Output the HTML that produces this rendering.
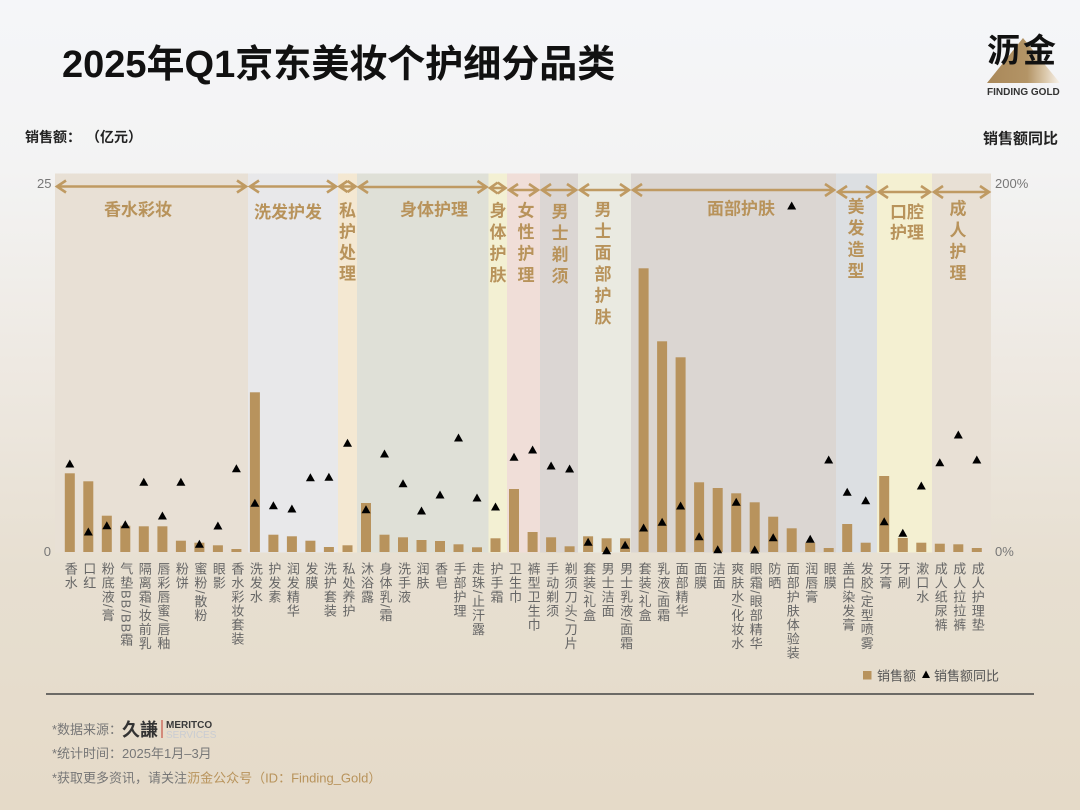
<!DOCTYPE html>
<html><head><meta charset="utf-8">
<style>
html,body{margin:0;padding:0;}
body{width:1080px;height:810px;overflow:hidden;position:relative;
background:linear-gradient(180deg,#f5f6f9 0%,#f3f3f3 21%,#eee9e2 45%,#e7dfd1 70%,#e5dac8 100%);
font-family:"Liberation Sans","Noto Sans CJK SC",sans-serif;}
svg{position:absolute;left:0;top:0;}
.xl{position:absolute;top:562px;width:14px;writing-mode:vertical-rl;text-orientation:mixed;
font-size:13px;line-height:14px;letter-spacing:1px;color:#666;white-space:nowrap;
font-family:"Liberation Sans","Noto Sans CJK SC",sans-serif;}
</style></head>
<body>
<svg width="1080" height="810" viewBox="0 0 1080 810" xmlns="http://www.w3.org/2000/svg" font-family="Liberation Sans, Noto Sans CJK SC, sans-serif">
<defs>
<linearGradient id="lg" x1="0" y1="0" x2="1" y2="0">
<stop offset="0" stop-color="#a98859"/>
<stop offset="0.55" stop-color="#b39466"/>
<stop offset="0.78" stop-color="#d8c4a5"/>
<stop offset="1" stop-color="#f8f3ec"/>
</linearGradient>
</defs>

<!-- title -->
<text x="62" y="77" font-size="38" font-weight="bold" fill="#111">2025年Q1京东美妆个护细分品类</text>

<!-- logo -->
<polygon points="1023,38 987,83 1060,83" fill="url(#lg)"/>
<text x="987" y="62" font-size="33" font-weight="bold" fill="#111" letter-spacing="3" font-family="Noto Sans CJK SC, sans-serif">沥金</text>
<text x="987" y="95" font-size="10" font-weight="bold" fill="#333">FINDING GOLD</text>

<!-- axis titles -->
<text x="25" y="142" font-size="14" font-weight="bold" fill="#222">销售额：</text>
<text x="86" y="142" font-size="14" font-weight="bold" fill="#222">（亿元）</text>
<text x="1058" y="143.5" font-size="15" font-weight="bold" fill="#222" text-anchor="end">销售额同比</text>

<!-- bands -->
<rect x="55" y="173.5" width="193" height="379" fill="#e8e0d5"/>
<rect x="248" y="173.5" width="90" height="379" fill="#e8e8ea"/>
<rect x="338" y="173.5" width="19" height="379" fill="#f4e8d2"/>
<rect x="357" y="173.5" width="131.5" height="379" fill="#dfe0d7"/>
<rect x="488.5" y="173.5" width="18.5" height="379" fill="#f3f0d3"/>
<rect x="507" y="173.5" width="33" height="379" fill="#f0ded8"/>
<rect x="540" y="173.5" width="38" height="379" fill="#dbd6d3"/>
<rect x="578" y="173.5" width="53" height="379" fill="#eaeae1"/>
<rect x="631" y="173.5" width="205" height="379" fill="#dbd6d2"/>
<rect x="836" y="173.5" width="41" height="379" fill="#dcdfe2"/>
<rect x="877" y="173.5" width="55" height="379" fill="#f4f0d2"/>
<rect x="932" y="173.5" width="59" height="379" fill="#e8e0d5"/>

<!-- arrows -->
<g stroke="#bf9a62" stroke-width="2.6" fill="none" stroke-linejoin="miter">
<path d="M57,186.5 H246 M66,180.5 L57,186.5 L66,192.5 M237,180.5 L246,186.5 L237,192.5"/>
<path d="M250,186.5 H336 M259,180.5 L250,186.5 L259,192.5 M327,180.5 L336,186.5 L327,192.5"/>
<path d="M339.5,186.5 H355.5 M347.5,181 L339.5,186.5 L347.5,192 M347.5,181 L355.5,186.5 L347.5,192"/>
<path d="M359,187 H486.5 M368,181 L359,187 L368,193 M477.5,181 L486.5,187 L477.5,193"/>
<path d="M490,188 H505.5 M497.7,182.5 L490,188 L497.7,193.5 M497.7,182.5 L505.5,188 L497.7,193.5"/>
<path d="M509,190 H538 M518,184 L509,190 L518,196 M529,184 L538,190 L529,196"/>
<path d="M542,190 H576 M551,184 L542,190 L551,196 M567,184 L576,190 L567,196"/>
<path d="M580,190 H629 M589,184 L580,190 L589,196 M620,184 L629,190 L620,196"/>
<path d="M633,190 H834 M642,184 L633,190 L642,196 M825,184 L834,190 L825,196"/>
<path d="M838,192 H875 M847,186 L838,192 L847,198 M866,186 L875,192 L866,198"/>
<path d="M879,192 H930 M888,186 L879,192 L888,198 M921,186 L930,192 L921,198"/>
<path d="M934,192 H989 M943,186 L934,192 L943,198 M980,186 L989,192 L980,198"/>
</g>

<!-- band labels -->
<g fill="#b8935b" font-size="17" font-weight="bold" font-family="Noto Sans CJK SC, sans-serif" text-anchor="middle">
<text x="138" y="215.5">香水彩妆</text>
<text x="288" y="218">洗发护发</text>
<text x="434" y="215.5">身体护理</text>
<text x="741" y="214.5">面部护肤</text>
<text x="907" y="218">口腔</text>
<text x="907" y="238.5">护理</text>
<text x="347.5" y="216.5">私</text><text x="347.5" y="237.5">护</text><text x="347.5" y="258.5">处</text><text x="347.5" y="279.5">理</text>
<text x="498" y="216.5">身</text><text x="498" y="238">体</text><text x="498" y="259.5">护</text><text x="498" y="281">肤</text>
<text x="526" y="216.5">女</text><text x="526" y="238">性</text><text x="526" y="259.5">护</text><text x="526" y="281">理</text>
<text x="560" y="217.5">男</text><text x="560" y="239">士</text><text x="560" y="260.5">剃</text><text x="560" y="282">须</text>
<text x="603" y="215.5">男</text><text x="603" y="237">士</text><text x="603" y="258.5">面</text><text x="603" y="280">部</text><text x="603" y="301.5">护</text><text x="603" y="323">肤</text>
<text x="856" y="212.5">美</text><text x="856" y="234">发</text><text x="856" y="255.5">造</text><text x="856" y="277">型</text>
<text x="958" y="214.5">成</text><text x="958" y="236">人</text><text x="958" y="257.5">护</text><text x="958" y="279">理</text>
</g>

<!-- axis tick labels -->
<g font-size="13" fill="#777">
<text x="51.5" y="188" text-anchor="end">25</text>
<text x="51" y="556" text-anchor="end">0</text>
<text x="995" y="188">200%</text>
<text x="995" y="556">0%</text>
</g>

<!-- bars -->
<g fill="#b8935d">
<rect x="64.8" y="473.3" width="10" height="78.7"/>
<rect x="83.3" y="481.3" width="10" height="70.7"/>
<rect x="101.8" y="515.7" width="10" height="36.3"/>
<rect x="120.3" y="525.7" width="10" height="26.3"/>
<rect x="138.8" y="526.3" width="10" height="25.7"/>
<rect x="157.4" y="526.3" width="10" height="25.7"/>
<rect x="175.9" y="540.7" width="10" height="11.3"/>
<rect x="194.4" y="542.7" width="10" height="9.3"/>
<rect x="212.9" y="545.3" width="10" height="6.7"/>
<rect x="231.4" y="549" width="10" height="3"/>
<rect x="249.9" y="392.3" width="10" height="159.7"/>
<rect x="268.4" y="534.7" width="10" height="17.3"/>
<rect x="286.9" y="536.3" width="10" height="15.7"/>
<rect x="305.4" y="540.7" width="10" height="11.3"/>
<rect x="323.9" y="547" width="10" height="5"/>
<rect x="342.5" y="545.3" width="10" height="6.7"/>
<rect x="361" y="503" width="10" height="49"/>
<rect x="379.5" y="534.7" width="10" height="17.3"/>
<rect x="398" y="537.3" width="10" height="14.7"/>
<rect x="416.5" y="540" width="10" height="12"/>
<rect x="435" y="541" width="10" height="11"/>
<rect x="453.5" y="544.3" width="10" height="7.7"/>
<rect x="472" y="547.3" width="10" height="4.7"/>
<rect x="490.5" y="538.3" width="10" height="13.7"/>
<rect x="509" y="489" width="10" height="63"/>
<rect x="527.6" y="532" width="10" height="20"/>
<rect x="546.1" y="537.3" width="10" height="14.7"/>
<rect x="564.6" y="546.3" width="10" height="5.7"/>
<rect x="583.1" y="536.3" width="10" height="15.7"/>
<rect x="601.6" y="538.3" width="10" height="13.7"/>
<rect x="620.1" y="538.3" width="10" height="13.7"/>
<rect x="638.6" y="268.3" width="10" height="283.7"/>
<rect x="657.1" y="341.3" width="10" height="210.7"/>
<rect x="675.6" y="357.3" width="10" height="194.7"/>
<rect x="694.1" y="482.3" width="10" height="69.7"/>
<rect x="712.7" y="488" width="10" height="64"/>
<rect x="731.2" y="493.3" width="10" height="58.7"/>
<rect x="749.7" y="502.3" width="10" height="49.7"/>
<rect x="768.2" y="516.7" width="10" height="35.3"/>
<rect x="786.7" y="528.3" width="10" height="23.7"/>
<rect x="805.2" y="542.7" width="10" height="9.3"/>
<rect x="823.7" y="548" width="10" height="4"/>
<rect x="842.2" y="524" width="10" height="28"/>
<rect x="860.7" y="542.7" width="10" height="9.3"/>
<rect x="879.2" y="476" width="10" height="76"/>
<rect x="897.8" y="538" width="10" height="14"/>
<rect x="916.3" y="542.7" width="10" height="9.3"/>
<rect x="934.8" y="543.7" width="10" height="8.3"/>
<rect x="953.3" y="544.3" width="10" height="7.7"/>
<rect x="971.8" y="548" width="10" height="4"/>
</g>

<!-- triangles -->
<g fill="#000">
<path d="M69.8 459.5l4.5 8h-9z"/>
<path d="M88.3 527.5l4.5 8h-9z"/>
<path d="M106.8 521.2l4.5 8h-9z"/>
<path d="M125.3 520.2l4.5 8h-9z"/>
<path d="M143.8 477.8l4.5 8h-9z"/>
<path d="M162.4 511.5l4.5 8h-9z"/>
<path d="M180.9 477.8l4.5 8h-9z"/>
<path d="M199.4 539.8l4.5 8h-9z"/>
<path d="M217.9 521.5l4.5 8h-9z"/>
<path d="M236.4 464.2l4.5 8h-9z"/>
<path d="M254.9 498.8l4.5 8h-9z"/>
<path d="M273.4 501.2l4.5 8h-9z"/>
<path d="M291.9 504.5l4.5 8h-9z"/>
<path d="M310.4 473.2l4.5 8h-9z"/>
<path d="M328.9 472.8l4.5 8h-9z"/>
<path d="M347.5 438.8l4.5 8h-9z"/>
<path d="M366 505.2l4.5 8h-9z"/>
<path d="M384.5 449.5l4.5 8h-9z"/>
<path d="M403 479.2l4.5 8h-9z"/>
<path d="M421.5 506.5l4.5 8h-9z"/>
<path d="M440 490.5l4.5 8h-9z"/>
<path d="M458.5 433.5l4.5 8h-9z"/>
<path d="M477 493.5l4.5 8h-9z"/>
<path d="M495.5 502.5l4.5 8h-9z"/>
<path d="M514 452.8l4.5 8h-9z"/>
<path d="M532.6 445.5l4.5 8h-9z"/>
<path d="M551.1 461.5l4.5 8h-9z"/>
<path d="M569.6 464.5l4.5 8h-9z"/>
<path d="M588.1 537.8l4.5 8h-9z"/>
<path d="M606.6 546.2l4.5 8h-9z"/>
<path d="M625.1 540.8l4.5 8h-9z"/>
<path d="M643.6 523.5l4.5 8h-9z"/>
<path d="M662.1 517.8l4.5 8h-9z"/>
<path d="M680.6 501.5l4.5 8h-9z"/>
<path d="M699.1 532.2l4.5 8h-9z"/>
<path d="M717.7 545.2l4.5 8h-9z"/>
<path d="M736.2 497.8l4.5 8h-9z"/>
<path d="M754.7 545.5l4.5 8h-9z"/>
<path d="M773.2 533.2l4.5 8h-9z"/>
<path d="M791.7 201.5l4.5 8h-9z"/>
<path d="M810.2 534.8l4.5 8h-9z"/>
<path d="M828.7 455.5l4.5 8h-9z"/>
<path d="M847.2 487.8l4.5 8h-9z"/>
<path d="M865.7 496.2l4.5 8h-9z"/>
<path d="M884.2 517.2l4.5 8h-9z"/>
<path d="M902.8 528.8l4.5 8h-9z"/>
<path d="M921.3 481.5l4.5 8h-9z"/>
<path d="M939.8 458.2l4.5 8h-9z"/>
<path d="M958.3 430.5l4.5 8h-9z"/>
<path d="M976.8 455.5l4.5 8h-9z"/>
</g>

<!-- legend -->
<rect x="863" y="671" width="8.5" height="8.5" fill="#b8935d"/>
<text x="877" y="680.5" font-size="13" fill="#555">销售额</text>
<path d="M926 670.5l4 7.5h-8z" fill="#000"/>
<text x="934" y="680.5" font-size="13" fill="#555">销售额同比</text>

<!-- rule -->
<line x1="46" y1="694" x2="1034" y2="694" stroke="#444" stroke-width="1.5"/>

<!-- footer -->
<g font-size="13" fill="#777">
<text x="52" y="734">*数据来源：</text>
<text x="52" y="758">*统计时间：2025年1月–3月</text>
<text x="52" y="782.5">*获取更多资讯，请关注<tspan fill="#b8935b">沥金公众号（ID：Finding_Gold）</tspan></text>
</g>
<text x="122" y="736" font-size="18" font-weight="bold" fill="#333" font-family="Noto Sans CJK TC, sans-serif">久謙</text>
<line x1="162" y1="720" x2="162" y2="738" stroke="#c0392b" stroke-width="1"/>
<text x="166" y="728" font-size="10" font-weight="bold" fill="#3a3a3a">MERITCO</text>
<text x="166" y="738" font-size="10" fill="#c9ccd2">SERVICES</text>
</svg>

<div class="xl" style="left:62.8px">香水</div>
<div class="xl" style="left:81.3px">口红</div>
<div class="xl" style="left:99.8px">粉底液/膏</div>
<div class="xl" style="left:118.3px">气垫BB/BB霜</div>
<div class="xl" style="left:136.8px">隔离霜/妆前乳</div>
<div class="xl" style="left:155.4px">唇彩唇蜜/唇釉</div>
<div class="xl" style="left:173.9px">粉饼</div>
<div class="xl" style="left:192.4px">蜜粉/散粉</div>
<div class="xl" style="left:210.9px">眼影</div>
<div class="xl" style="left:229.4px">香水彩妆套装</div>
<div class="xl" style="left:247.9px">洗发水</div>
<div class="xl" style="left:266.4px">护发素</div>
<div class="xl" style="left:284.9px">润发精华</div>
<div class="xl" style="left:303.4px">发膜</div>
<div class="xl" style="left:321.9px">洗护套装</div>
<div class="xl" style="left:340.5px">私处养护</div>
<div class="xl" style="left:359px">沐浴露</div>
<div class="xl" style="left:377.5px">身体乳/霜</div>
<div class="xl" style="left:396px">洗手液</div>
<div class="xl" style="left:414.5px">润肤</div>
<div class="xl" style="left:433px">香皂</div>
<div class="xl" style="left:451.5px">手部护理</div>
<div class="xl" style="left:470px">走珠/止汗露</div>
<div class="xl" style="left:488.5px">护手霜</div>
<div class="xl" style="left:507px">卫生巾</div>
<div class="xl" style="left:525.6px">裤型卫生巾</div>
<div class="xl" style="left:544.1px">手动剃须</div>
<div class="xl" style="left:562.6px">剃须刀头/刀片</div>
<div class="xl" style="left:581.1px">套装/礼盒</div>
<div class="xl" style="left:599.6px">男士洁面</div>
<div class="xl" style="left:618.1px">男士乳液/面霜</div>
<div class="xl" style="left:636.6px">套装/礼盒</div>
<div class="xl" style="left:655.1px">乳液/面霜</div>
<div class="xl" style="left:673.6px">面部精华</div>
<div class="xl" style="left:692.1px">面膜</div>
<div class="xl" style="left:710.7px">洁面</div>
<div class="xl" style="left:729.2px">爽肤水/化妆水</div>
<div class="xl" style="left:747.7px">眼霜/眼部精华</div>
<div class="xl" style="left:766.2px">防晒</div>
<div class="xl" style="left:784.7px">面部护肤体验装</div>
<div class="xl" style="left:803.2px">润唇膏</div>
<div class="xl" style="left:821.7px">眼膜</div>
<div class="xl" style="left:840.2px">盖白染发膏</div>
<div class="xl" style="left:858.7px">发胶/定型喷雾</div>
<div class="xl" style="left:877.2px">牙膏</div>
<div class="xl" style="left:895.8px">牙刷</div>
<div class="xl" style="left:914.3px">漱口水</div>
<div class="xl" style="left:932.8px">成人纸尿裤</div>
<div class="xl" style="left:951.3px">成人拉拉裤</div>
<div class="xl" style="left:969.8px">成人护理垫</div>
</body></html>
